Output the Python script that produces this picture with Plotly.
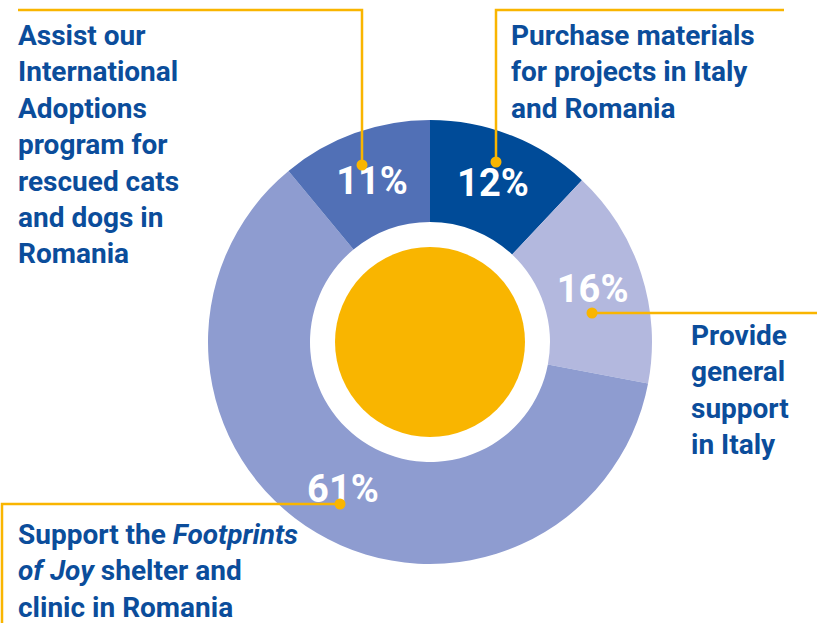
import plotly.graph_objects as go

# ---- data ----
categories = [
    "Purchase materials for projects in Italy and Romania",
    "Provide general support in Italy",
    "Support the Footprints of Joy shelter and clinic in Romania",
    "Assist our International Adoptions program for rescued cats and dogs in Romania",
]
shares = [12, 16, 61, 11]
slice_colors = ["#004b98", "#b3b8de", "#8e9cd0", "#5170b6"]

label_texts = [
    "Purchase materials<br>for projects in Italy<br>and Romania",
    "Provide<br>general<br>support<br>in Italy",
    "Support the <i>Footprints</i><br><i>of Joy</i> shelter and<br>clinic in Romania",
    "Assist our<br>International<br>Adoptions<br>program for<br>rescued cats<br>and dogs in<br>Romania",
]

W, H = 817, 623
TEXT_BLUE = "#0b4d9b"
YELLOW = "#f9b500"
FONT = "Roboto"

# donut geometry (pixels)
cx, cy, R = 430, 342, 222

fig = go.Figure()
fig.add_trace(go.Pie(
    labels=categories,
    values=shares,
    sort=False,
    direction="clockwise",
    rotation=0,
    hole=120 / R,
    marker=dict(colors=slice_colors, line=dict(width=0)),
    texttemplate="<b>%{value}%</b>",
    textposition="inside",
    insidetextorientation="horizontal",
    textfont=dict(family=FONT, size=38, color="white"),
    domain=dict(x=[(cx - R) / W, (cx + R) / W],
                y=[(H - cy - R) / H, (H - cy + R) / H]),
    showlegend=False,
    hoverinfo="label+percent",
))

shapes = []
# inner yellow disc
shapes.append(dict(type="circle", xref="x", yref="y", x0=cx - 95, x1=cx + 95,
                   y0=cy - 95, y1=cy + 95, fillcolor=YELLOW, line=dict(width=0),
                   layer="above"))

line_style = dict(color=YELLOW, width=2.5)
leaders = [
    ([(496, 162), (496, 10), (784, 10)], (496, 162)),
    ([(592, 313), (817, 313)], (592, 313)),
    ([(340, 504), (2, 504), (2, 623)], (340, 504)),
    ([(362, 165), (362, 10), (18, 10)], (362, 165)),
]
for pts, dot in leaders:
    path = "M " + " L ".join(f"{x},{y}" for x, y in pts)
    shapes.append(dict(type="path", xref="x", yref="y", path=path,
                       line=line_style, layer="above"))
    shapes.append(dict(type="circle", xref="x", yref="y",
                       x0=dot[0] - 5.5, x1=dot[0] + 5.5, y0=dot[1] - 5.5, y1=dot[1] + 5.5,
                       fillcolor=YELLOW, line=dict(width=0), layer="above"))

label_pos = [(509, 17), (689, 317), (16, 516), (16, 17)]
annotations = []
for txt, (x, y) in zip(label_texts, label_pos):
    annotations.append(dict(
        x=x, y=y, xref="x", yref="y", xanchor="left", yanchor="top",
        text=f"<b>{txt}</b>", showarrow=False, align="left",
        font=dict(family=FONT, size=28, color=TEXT_BLUE),
    ))

fig.update_layout(
    width=W, height=H,
    margin=dict(l=0, r=0, t=0, b=0),
    paper_bgcolor="white", plot_bgcolor="rgba(0,0,0,0)",
    xaxis=dict(range=[0, W], visible=False, fixedrange=True),
    yaxis=dict(range=[H, 0], visible=False, fixedrange=True),
    shapes=shapes,
    annotations=annotations,
)

fig.write_html("out.html",
               config={"displayModeBar": False},
               post_script="document.body.style.margin='0';document.body.style.overflow='hidden';")
